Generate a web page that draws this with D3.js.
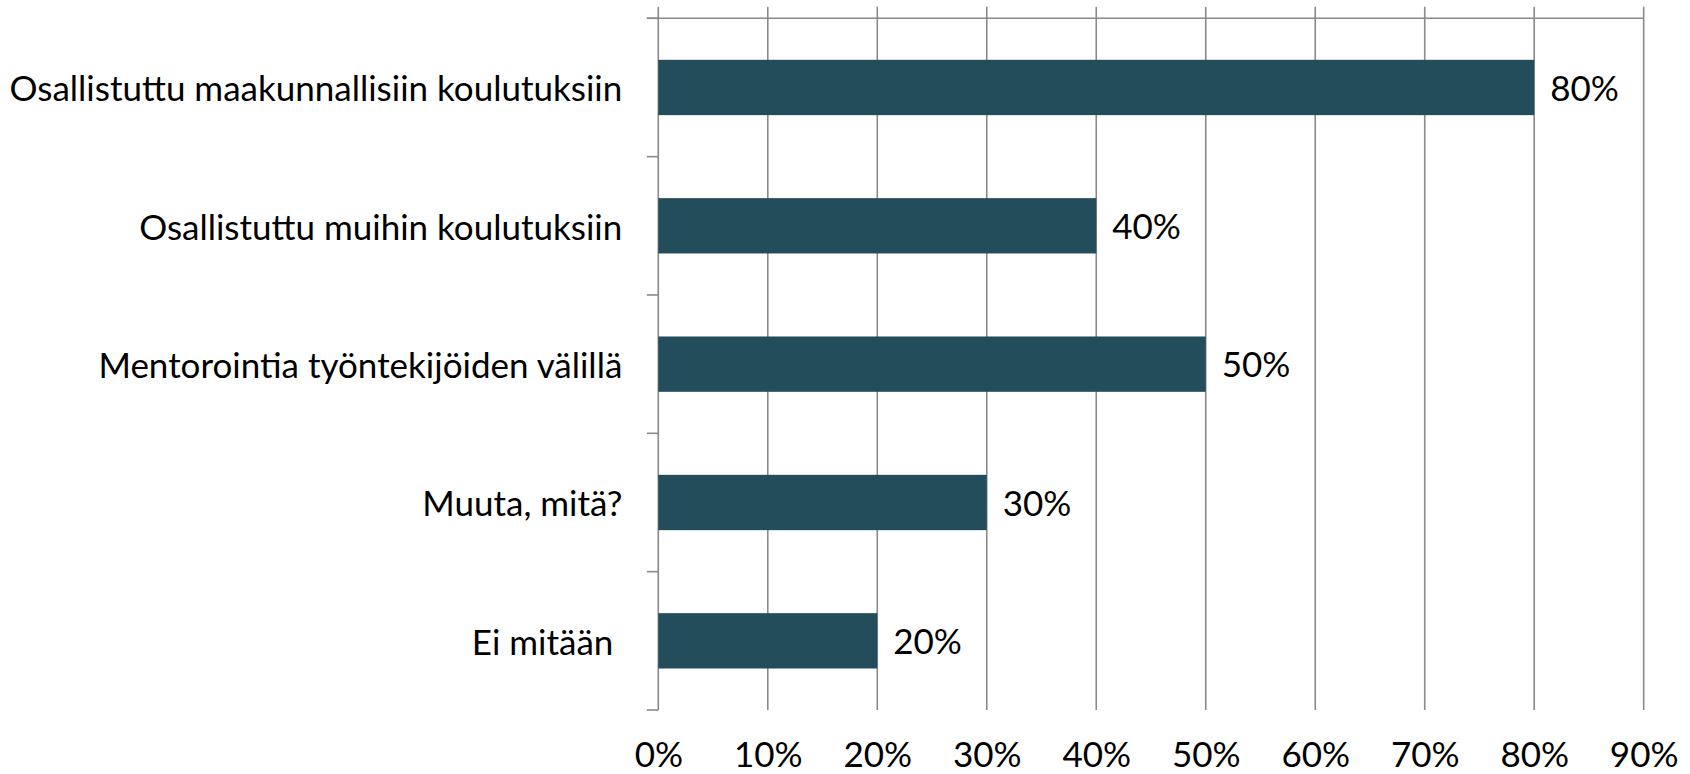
<!DOCTYPE html>
<html><head><meta charset="utf-8">
<script src="https://cdn.jsdelivr.net/npm/d3@7"></script>
<style>
html,body{margin:0;padding:0;background:#fff;}
svg text{font-family:Lato,"Open Sans",sans-serif;fill:#000;}
</style></head>
<body>
<svg id="chart" width="1690" height="774"></svg>
<script>
const categories = ["Osallistuttu maakunnallisiin koulutuksiin","Osallistuttu muihin koulutuksiin","Mentorointia työntekijöiden välillä","Muuta, mitä?","Ei mitään\u00a0"];
const values = [0.80, 0.40, 0.50, 0.30, 0.20];
const tickValues = [0,0.1,0.2,0.3,0.4,0.5,0.6,0.7,0.8,0.9];
const tickLabels = ["0%","10%","20%","30%","40%","50%","60%","70%","80%","90%"];

const plotLeft = 658.3, plotRight = 1643.7, plotTop = 18.3, plotBottom = 710;
const fontSize = 35;
const svg = d3.select("#chart");
const x = d3.scaleLinear().domain([0,0.9]).range([plotLeft,plotRight]);
const y = d3.scaleBand().domain(categories).range([plotTop,plotBottom]).paddingInner(0.6).paddingOuter(0.3);
const gridColor = "#8a8a8a";

svg.append("g").selectAll("line").data(tickValues).join("line")
  .attr("x1",d=>x(d)).attr("x2",d=>x(d))
  .attr("y1",plotTop-11.5).attr("y2",plotBottom)
  .attr("stroke",gridColor).attr("stroke-width",1.6);

svg.append("line").attr("x1",plotLeft-11.5).attr("x2",plotRight).attr("y1",plotTop).attr("y2",plotTop)
  .attr("stroke",gridColor).attr("stroke-width",1.6);

const step = y.step();
const bounds = d3.range(categories.length+1).map(i=>plotTop + i*step);
svg.append("g").selectAll("line").data(bounds).join("line")
  .attr("x1",plotLeft-11.5).attr("x2",plotLeft).attr("y1",d=>d).attr("y2",d=>d)
  .attr("stroke",gridColor).attr("stroke-width",1.6);

svg.append("g").selectAll("rect").data(values).join("rect")
  .attr("x",x(0)).attr("y",(d,i)=>y(categories[i]))
  .attr("width",d=>x(d)-x(0)).attr("height",y.bandwidth())
  .attr("fill","#244D5B");

svg.append("g").selectAll("text").data(values).join("text")
  .attr("x",d=>x(d)+16).attr("y",(d,i)=>y(categories[i])+y.bandwidth()/2+1)
  .attr("dy","0.35em").attr("font-size",fontSize)
  .text(d=>d3.format(".0%")(d));

svg.append("g").selectAll("text").data(categories).join("text")
  .attr("x",plotLeft-36).attr("y",d=>y(d)+y.bandwidth()/2+1.5)
  .attr("dy","0.35em").attr("text-anchor","end").attr("font-size",fontSize)
  .style("white-space","pre")
  .text(d=>d);

const xAxis = d3.axisBottom(x).tickValues(tickValues).tickSize(0).tickPadding(0)
  .tickFormat((d,i)=>tickLabels[i]);
const gx = svg.append("g").attr("transform",`translate(0,${plotBottom})`).call(xAxis);
gx.select(".domain").remove();
gx.selectAll("text").attr("font-size",fontSize).attr("font-family","Lato,'Open Sans',sans-serif")
  .attr("fill","#000").attr("dy",null).attr("y",57);
</script>
</body></html>
